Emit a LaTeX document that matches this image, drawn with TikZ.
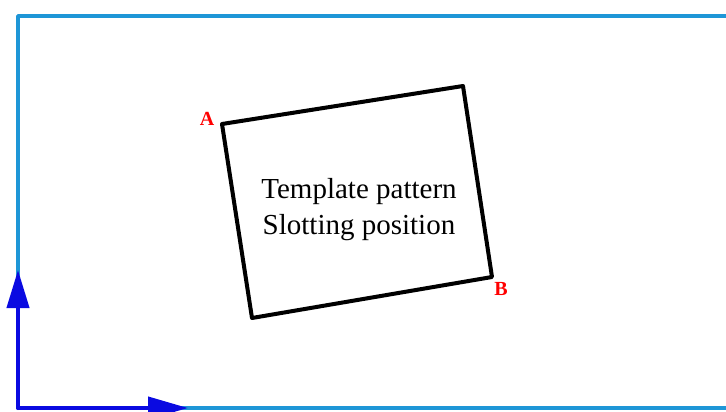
\documentclass[tikz,border=0pt]{standalone}
\usepackage{fontspec}
\setmainfont{Liberation Serif}
\usetikzlibrary{arrows.meta}

\begin{document}
\begin{tikzpicture}[x=1pt, y=-1pt, line join=round, line cap=round]
\definecolor{framecol}{RGB}{30,150,215}
\definecolor{axiscol}{RGB}{10,10,225}
\useasboundingbox (0,0) rectangle (726,412);
\coordinate (O) at (18,408);
\coordinate (T) at (18,16);
\coordinate (R) at (726,16);
\coordinate (S) at (726,408);
\coordinate (X) at (188,408);
\coordinate (Y) at (18,270);
\coordinate (A) at (222,124);
\coordinate (C) at (463,86);
\coordinate (B) at (492,277);
\coordinate (D) at (252,318);
\draw[framecol, line width=3.5pt, line cap=butt] (O) -- (T) -- (R);
\draw[framecol, line width=3.5pt, line cap=butt] (O) -- (S);
\draw[axiscol, line width=4pt, -{Triangle[length=38pt, width=22pt]}] (O) -- (Y);
\draw[axiscol, line width=4pt, -{Triangle[length=40pt, width=22pt]}] (O) -- (X);
\draw[line width=4pt] (A) -- (C) -- (B) -- (D) -- cycle;
\node[red, font=\fontsize{20}{20}\selectfont\bfseries] (la) at (207,119) {A};
\node[red, font=\fontsize{20}{20}\selectfont\bfseries] (lb) at (501,289) {B};
\node[align=center, font=\fontsize{29}{36}\selectfont] (txt) at (359,210) {Template pattern\\Slotting position};
\end{tikzpicture}
\end{document}
